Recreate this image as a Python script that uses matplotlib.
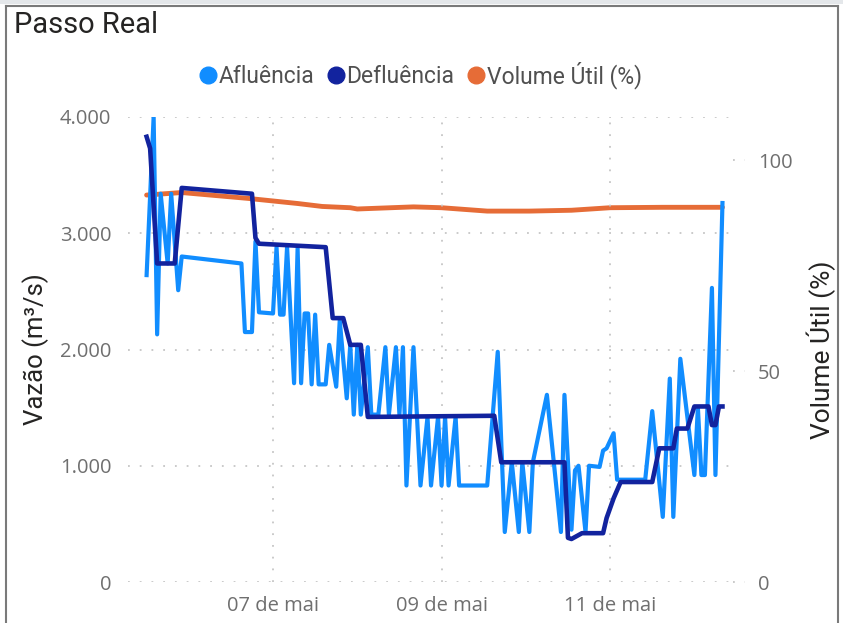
import pandas as pd
import matplotlib
matplotlib.use("Agg")
import matplotlib.pyplot as plt
from matplotlib.lines import Line2D
from matplotlib.patches import Rectangle

# hours counted from 05/05 00:00
start = pd.Timestamp("2024-05-05 00:00")

aflu_h = [12, 14, 15, 16, 18, 19, 21, 22, 39, 40, 42, 43, 44, 48, 49, 50, 51, 52,
          54, 55, 56, 57, 58, 59, 60, 61, 63, 64, 66, 67, 69, 70, 71, 72, 73, 75,
          76, 78, 80, 81, 83, 84, 85, 86, 88, 90, 92, 93, 95, 96, 97, 98, 100, 101,
          109, 112, 114, 116, 118, 119, 121, 122, 126, 130, 131, 133, 134, 135, 137,
          138, 141, 142, 143, 145, 146, 154, 156, 159, 161, 162, 164, 168, 169, 170,
          171, 173, 174, 176]
aflu_v = [2640, 4000, 2130, 3340, 2740, 3340, 2510, 2800, 2740, 2150, 2150, 2930, 2320,
          2310, 2880, 2300, 2300, 2880, 1710, 2870, 1710, 2310, 2310, 1700, 2300, 1700,
          1700, 2040, 1680, 2250, 1580, 2040, 1440, 2040, 1440, 2020, 1440, 1440, 2020,
          1440, 2020, 1440, 2020, 830, 2020, 830, 1420, 830, 1420, 830, 1420, 830, 1420,
          830, 830, 1980, 430, 1030, 430, 1030, 430, 1030, 1610, 430, 1610, 450, 960,
          1000, 430, 1000, 990, 1130, 1150, 1280, 880, 880, 1470, 560, 1750, 560, 1920,
          920, 1500, 920, 920, 2530, 920, 3260]

deflu_h = [12, 13, 15, 20, 22, 42, 43, 44, 63, 65, 68, 70, 73, 75, 111, 113, 131, 132,
           133, 136, 142, 143, 145, 147, 156, 158, 162, 163, 166, 168, 172, 173, 174,
           175, 176]
deflu_v = [3830, 3730, 2740, 2740, 3390, 3340, 2960, 2910, 2880, 2270, 2270, 2040, 2040,
           1420, 1430, 1030, 1030, 380, 370, 420, 420, 550, 720, 860, 860, 1150, 1150,
           1320, 1320, 1510, 1510, 1350, 1350, 1510, 1510]

vol_h = [12, 22, 41, 55, 62, 70, 72, 88, 96, 109, 121, 133, 144, 159, 176]
vol_v = [91.7, 92.3, 90.9, 89.7, 89.0, 88.7, 88.4, 88.9, 88.7, 87.9, 87.9, 88.1, 88.7,
         88.8, 88.8]

left_ticks = [0, 1000, 2000, 3000, 4000]
left_labels = ["0", "1.000", "2.000", "3.000", "4.000"]
right_ticks = [0, 50, 100]
date_ticks_h = [48, 96, 144]
date_labels = ["07 de mai", "09 de mai", "11 de mai"]


def to_time(hours):
    return start + pd.to_timedelta(pd.Series(hours), unit="h")


tick_font = "Open Sans"
din_font = "Roboto"
gray = "#6f6f6f"
grid_c = "#c6c6c6"
dots = (0, (1, 5.5))

fig = plt.figure(figsize=(8.43, 6.23), dpi=100)
ax = fig.add_axes([128 / 843, 1 - 582 / 623, 605 / 843, 465 / 623])
ax2 = ax.twinx()
ax.set_zorder(ax2.get_zorder() + 1)
ax.patch.set_visible(False)

ax.plot(to_time(aflu_h), aflu_v, color="#118DFF", lw=3.0, solid_joinstyle="round")
ax.plot(to_time(deflu_h), deflu_v, color="#12239E", lw=3.3, solid_joinstyle="round")
ax2.plot(to_time(vol_h), vol_v, color="#E66C37", lw=3.5, solid_capstyle="round")

x0 = start + pd.Timedelta(hours=6.7)
x1 = start + pd.Timedelta(hours=179.0)
ax.set_xlim(x0, x1)
ax.set_ylim(0, 4000)
ax2.set_ylim(0, 110.2)

xt = to_time(date_ticks_h)
ax.set_xticks(list(xt))
ax.set_xticklabels(date_labels, fontsize=14.5, color=gray, family=tick_font)
ax.set_yticks(left_ticks)
ax.set_yticklabels(left_labels, fontsize=14.5, color=gray, family=tick_font)
ax2.set_yticks(right_ticks)
ax2.set_yticklabels([str(v) for v in right_ticks], fontsize=14.5, color=gray,
                    family=tick_font)

ax.tick_params(axis="x", length=0, pad=10)
ax.tick_params(axis="y", length=0, pad=12)
ax2.tick_params(axis="y", length=0, pad=18)

ax.grid(True, axis="both", color=grid_c, linestyle=dots, lw=1.3)
ax2.hlines(right_ticks, 1.0, 1.02, transform=ax2.get_yaxis_transform(),
           colors=grid_c, linestyles=[dots], lw=1.3, clip_on=False)

for a in (ax, ax2):
    for s in a.spines.values():
        s.set_visible(False)

ax.set_ylabel("Vazão (m³/s)", fontsize=18.5, color="#252423", family=din_font,
              labelpad=8)
ax2.set_ylabel("Volume Útil (%)", fontsize=19, color="#252423", family=din_font,
               labelpad=10)

fig.text(14 / 843, 1 - 25 / 623, "Passo Real", fontsize=21, color="#252423",
         family=din_font, va="center", ha="left")

handles = [
    Line2D([], [], ls="none", marker="o", ms=12, color="#118DFF"),
    Line2D([], [], ls="none", marker="o", ms=12, color="#12239E"),
    Line2D([], [], ls="none", marker="o", ms=12, color="#E66C37"),
]
fig.legend(handles, ["Afluência", "Defluência", "Volume Útil (%)"], ncol=3,
           loc="center", bbox_to_anchor=(421 / 843, 1 - 75 / 623), frameon=False,
           handlelength=0.7, handletextpad=0.1, columnspacing=0.6,
           prop={"family": din_font, "size": 16.5}, labelcolor="#505050")

# visual frame
fig.add_artist(Rectangle((0, 1 - 4 / 623), 1, 4 / 623, transform=fig.transFigure,
                         color="#e4e7ea", lw=0))
fig.add_artist(Line2D([5.5 / 843, 5.5 / 843], [0, 1 - 5.5 / 623],
                      transform=fig.transFigure, color="#7a7a7a", lw=1.5))
fig.add_artist(Line2D([5.5 / 843, 838 / 843], [1 - 5.5 / 623, 1 - 5.5 / 623],
                      transform=fig.transFigure, color="#7a7a7a", lw=1.5))
fig.add_artist(Line2D([838 / 843, 838 / 843], [0, 1 - 5.5 / 623],
                      transform=fig.transFigure, color="#7a7a7a", lw=1.5))

fig.savefig("out.png", dpi=100)
